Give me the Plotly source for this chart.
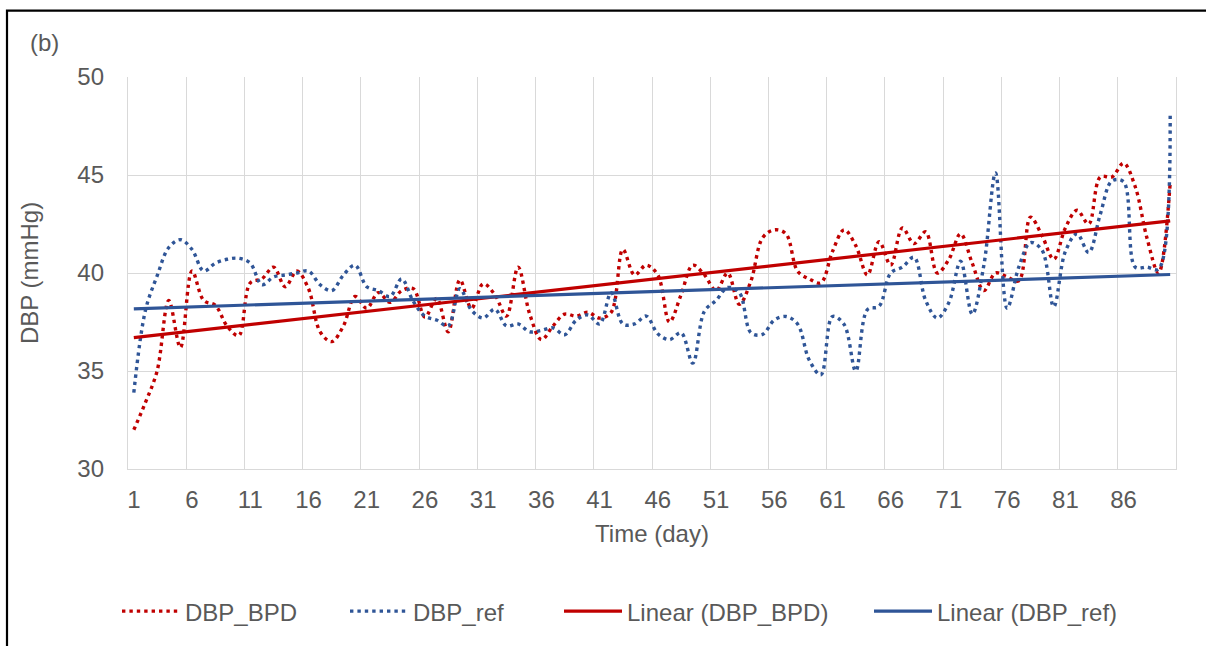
import numpy as np
import plotly.graph_objects as go

# Daily diastolic blood pressure readings (mmHg)
days = list(range(1, 91))

dbp_bpd = [
    32.0, 33.4, 35.0, 38.6, 36.2, 40.1, 38.6, 38.35, 37.3, 36.8,
    39.5, 39.7, 40.3, 39.3, 40.1, 39.2, 37.0, 36.5, 37.3, 38.8,
    38.2, 39.0, 38.5, 39.1, 39.2, 37.75, 38.7, 37.0, 39.65, 38.2,
    39.45, 38.9, 37.8, 40.3, 37.9, 36.6, 37.3, 37.9, 37.8, 38.0,
    37.7, 38.0, 41.2, 39.9, 40.4, 39.9, 37.5, 38.9, 40.4, 39.9,
    39.1, 40.0, 38.4, 39.6, 41.8, 42.2, 42.0, 40.1, 39.7, 39.5,
    41.1, 42.2, 41.4, 39.9, 41.6, 40.4, 42.3, 41.5, 42.1, 40.0,
    40.7, 42.0, 40.5, 39.1, 40.0, 39.8, 39.6, 42.85, 41.9, 40.7,
    42.3, 43.2, 42.5, 44.9, 44.9, 45.6, 44.4, 41.8, 40.0, 44.6,
]

dbp_ref = [
    33.9, 38.1, 39.85, 41.3, 41.7, 41.2, 40.1, 40.5, 40.7, 40.75,
    40.5, 39.4, 39.8, 39.9, 40.0, 40.1, 39.4, 39.1, 39.9, 40.4,
    39.3, 39.1, 38.8, 39.7, 38.55, 37.8, 37.6, 37.3, 39.2, 38.1,
    37.7, 38.15, 37.3, 37.4, 37.0, 37.07, 37.2, 36.85, 37.6, 37.86,
    37.4, 39.0, 37.4, 37.4, 37.8, 36.9, 36.6, 36.95, 35.4, 38.05,
    38.6, 39.26, 39.0, 36.95, 36.87, 37.6, 37.78, 37.4, 35.56, 34.8,
    37.78, 37.37, 35.0, 38.13, 38.3, 40.0, 40.3, 40.8, 38.6, 37.7,
    38.5, 40.6, 37.9, 40.4, 45.1, 38.2, 40.3, 41.55, 41.16, 38.28,
    41.1, 42.0, 41.04, 43.0, 44.7, 44.65, 40.3, 40.3, 40.2, 48.2,
]

tick_days = list(range(1, 90, 5))
tick_labels = [str(d) for d in tick_days]

RED = "#C00000"
BLUE = "#2F5597"
GRID = "#D9D9D9"
TEXT = "#595959"
FONT = "Liberation Sans, Arial, sans-serif"
FS = 24

x = np.array(days, dtype=float)


def linear_fit(values):
    slope, intercept = np.polyfit(x, np.array(values, dtype=float), 1)
    return slope * x + intercept


fig = go.Figure()

fig.add_trace(go.Scatter(
    x=days, y=dbp_bpd, name="DBP_BPD", mode="lines",
    line=dict(color=RED, width=3.4, dash="3.4px,4.0px", shape="spline", smoothing=1.0),
    legend="legend",
))
fig.add_trace(go.Scatter(
    x=days, y=dbp_ref, name="DBP_ref", mode="lines",
    line=dict(color=BLUE, width=3.4, dash="3.4px,4.0px", shape="spline", smoothing=1.0),
    legend="legend2",
))
fig.add_trace(go.Scatter(
    x=days, y=linear_fit(dbp_bpd), name="Linear (DBP_BPD)", mode="lines",
    line=dict(color=RED, width=3.2),
    legend="legend3",
))
fig.add_trace(go.Scatter(
    x=days, y=linear_fit(dbp_ref), name="Linear (DBP_ref)", mode="lines",
    line=dict(color=BLUE, width=3.2),
    legend="legend4",
))

# plot area geometry in pixels (used to place the paper-referenced extras)
L, R, T, B = 128, 1176, 77, 473
W, H = 1206, 646


def px_x(p):
    return (p - L) / (R - L)


def px_y(p):
    return (B - p) / (B - T)


ITEM_W = 58
TEXT_OFFSET = ITEM_W + 10

legend_common = dict(
    orientation="h", yanchor="middle", xanchor="left",
    y=px_y(617), font=dict(family=FONT, size=FS, color=TEXT),
    bgcolor="rgba(0,0,0,0)", borderwidth=0, itemwidth=ITEM_W,
)

fig.update_layout(
    width=W, height=H,
    margin=dict(l=L, r=W - R, t=T, b=H - B),
    paper_bgcolor="white", plot_bgcolor="white",
    font=dict(family=FONT, size=FS, color=TEXT),
    showlegend=True,
    legend=dict(x=px_x(185 - TEXT_OFFSET), **legend_common),
    legend2=dict(x=px_x(413 - TEXT_OFFSET), **legend_common),
    legend3=dict(x=px_x(627 - TEXT_OFFSET), **legend_common),
    legend4=dict(x=px_x(937 - TEXT_OFFSET), **legend_common),
    xaxis=dict(
        range=[0.5, 90.5],
        tickmode="array", tickvals=tick_days, ticktext=tick_labels,
        showgrid=False, zeroline=False,
        showline=True, linecolor=GRID, linewidth=1.3,
        ticks="", ticklabelstandoff=9,
        tickfont=dict(family=FONT, size=FS, color=TEXT),
        minor=dict(tick0=0.5, dtick=5, showgrid=True, gridcolor=GRID, gridwidth=1.3, ticks=""),
        title=dict(text="Time (day)", font=dict(family=FONT, size=FS, color=TEXT), standoff=13),
    ),
    yaxis=dict(
        range=[30, 50], dtick=5, tick0=30,
        showgrid=True, gridcolor=GRID, gridwidth=1.3, zeroline=False,
        showline=True, mirror=True, linecolor=GRID, linewidth=1.3,
        ticks="", ticklabelstandoff=18,
        tickfont=dict(family=FONT, size=FS, color=TEXT),
        title=dict(text="DBP (mmHg)", font=dict(family=FONT, size=FS, color=TEXT), standoff=31),
    ),
    annotations=[dict(
        text="(b)", xref="paper", yref="paper",
        x=px_x(28), y=px_y(42), xanchor="left", yanchor="middle",
        showarrow=False, font=dict(family=FONT, size=FS, color=TEXT),
    )],
    shapes=[dict(
        type="rect", xref="paper", yref="paper",
        x0=px_x(7), x1=px_x(1212), y0=px_y(10), y1=px_y(660),
        line=dict(color="black", width=2.2), fillcolor="rgba(0,0,0,0)", layer="below",
    )],
)

fig.write_html("out.html")
